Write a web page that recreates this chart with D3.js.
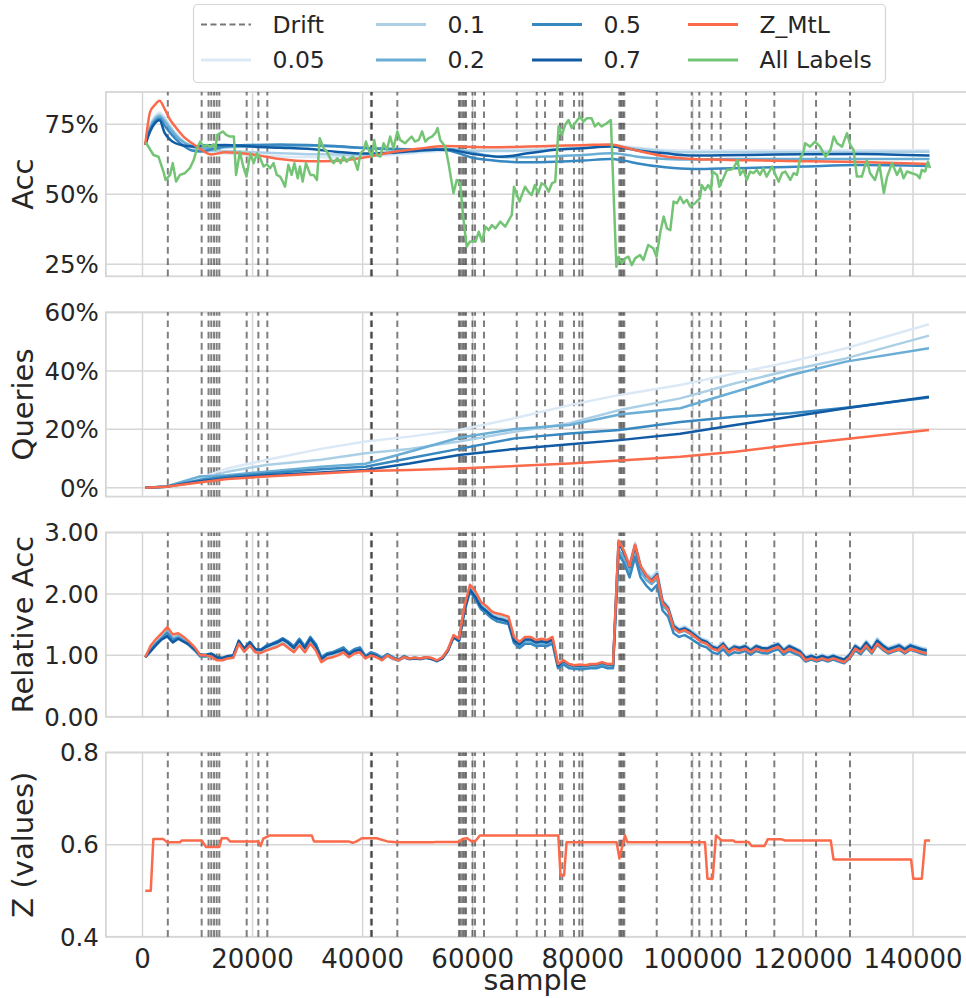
<!DOCTYPE html>
<html>
<head>
<meta charset="utf-8">
<script src="https://cdn.jsdelivr.net/npm/d3@7"></script>
<style>
  body { margin: 0; background: #fff; }
  svg { display: block; font-family: "DejaVu Sans", sans-serif; }
</style>
</head>
<body>
<div id="chart"></div>
<script>
"use strict";

// samples where a drift was detected
var drifts = [4600, 10750, 12000, 12500, 13000, 13480, 13960, 18930, 21050, 22680,
  41500, 41700, 46300, 57500, 57800, 58170, 58480, 58780, 59950, 60420, 62050,
  68000, 71630, 73140, 75860, 76280, 78400, 79370, 79920, 86640, 86940, 87250,
  87540, 93430, 99790, 101170, 103420, 105050, 109660, 114800, 122380, 128550];

var budgets = ["0.05", "0.1", "0.2", "0.5", "0.7"];
var blues = ["#dbe9f6", "#abd0e6", "#6aaed6", "#3787c0", "#105ba4"];
var zColor = "#fb6a4a";
var allColor = "#74c476";

// accuracy (%) of the budgeted learners and Z_MtL
var accSamples = [500, 1400, 2300, 3100, 4000, 5000, 6000, 7500, 9000, 10500, 12500, 15000,
  20000, 25000, 30000, 35000, 40000, 45000, 50000, 55000, 60000, 65000, 70000, 75000,
  80000, 85000, 87500, 90000, 95000, 100000, 105000, 110000, 120000, 130000, 143000];
var acc005 = [67.6, 74.8, 78.0, 79.2, 77.5, 74.6, 72.0, 68.9, 66.6, 65.3, 64.8, 64.5,
  64.0, 63.5, 63.3, 63.2, 63.4, 64.0, 64.8, 65.5, 65.8, 66.0, 66.2, 66.5,
  67.0, 67.8, 67.2, 66.6, 65.8, 65.6, 65.6, 65.6, 65.6, 65.7, 65.7];
var acc01 = [67.6, 74.3, 77.4, 78.5, 76.8, 74.0, 71.5, 68.6, 66.8, 65.9, 65.5, 65.4,
  65.0, 64.6, 64.3, 64.2, 64.0, 64.5, 65.3, 66.0, 65.5, 65.4, 65.6, 66.0,
  66.5, 67.2, 66.8, 66.2, 65.3, 65.0, 65.0, 65.0, 65.0, 65.1, 65.2];
var acc02 = [67.6, 73.8, 76.8, 77.8, 76.0, 73.5, 71.0, 68.5, 67.2, 66.5, 66.4, 66.8,
  67.0, 67.3, 67.4, 67.0, 66.5, 66.0, 65.8, 66.2, 64.8, 63.3, 63.2, 63.6,
  64.0, 64.6, 64.2, 63.4, 62.6, 62.4, 62.5, 62.6, 62.6, 62.6, 62.6];
var acc05 = [67.6, 73.0, 76.0, 77.0, 74.5, 72.0, 69.8, 67.2, 65.6, 65.3, 66.0, 67.0,
  67.6, 67.8, 67.6, 67.2, 66.6, 66.2, 66.0, 65.8, 63.0, 61.8, 61.4, 61.6,
  62.0, 62.6, 62.0, 61.0, 59.6, 59.0, 59.2, 59.4, 59.9, 60.4, 60.1];
var acc07 = [67.6, 72.5, 75.5, 76.4, 72.0, 69.5, 68.2, 67.4, 67.0, 67.3, 67.5, 67.6,
  67.0, 66.6, 66.2, 65.2, 64.5, 64.8, 65.5, 66.0, 64.4, 63.4, 64.6, 65.9,
  66.4, 67.0, 66.5, 65.6, 64.6, 63.8, 63.9, 64.0, 64.3, 64.4, 63.8];
var accZ = [67.6, 79.5, 82.0, 83.4, 80.6, 76.6, 74.0, 70.5, 68.2, 66.2, 64.2, 65.0,
  64.2, 62.6, 61.8, 61.9, 63.0, 64.9, 66.2, 67.2, 66.9, 66.8, 67.0, 67.3,
  67.5, 67.8, 66.8, 65.5, 63.5, 62.6, 62.3, 62.1, 61.8, 61.5, 60.8];

// accuracy (%) with all labels
var allSamples = [600, 2000, 2900, 3800, 4200, 5000, 5500, 6100, 6800, 7700, 8600, 9300,
  9900, 10500, 11100, 11700, 12300, 12900, 13200, 13600, 14600, 15200, 15900, 16600,
  17000, 17700, 18300, 18900, 19600, 20200, 20800, 21400, 22000, 22600, 23200, 23800,
  24400, 25000, 25500, 25900, 26500, 27100, 27600, 28200, 28600, 29100, 29700, 30500,
  31100, 31700, 32200, 32900, 33500, 34100, 34700, 35400, 36000, 36500, 37100, 37700,
  38300, 39100, 39600, 40200, 40600, 41100, 41700, 42100, 42600, 43200, 43800, 44400,
  45000, 45600, 46300, 46800, 47700, 48300, 48900, 49500, 50200, 50800, 51400, 52000,
  52600, 53200, 53600, 54100, 55000, 55600, 56500, 57100, 57700, 58300, 58900, 59500,
  60500, 61100, 61700, 62300, 62900, 63500, 64100, 65000, 65900, 67100, 67500, 68500,
  69500, 70100, 70700, 71300, 71900, 72500, 73100, 73800, 74400, 75000, 75600, 76200,
  76800, 77400, 78000, 78600, 79500, 80100, 80700, 81600, 82200, 82800, 83400, 84400,
  85100, 86100, 86500, 87100, 87700, 88300, 88900, 89500, 90400, 91000, 91900, 92800,
  93400, 94100, 94700, 95300, 95900, 96500, 97100, 97700, 98300, 98900, 99500, 100400,
  101300, 101600, 102200, 102800, 103300, 103600, 104400, 104800, 105400, 106200, 106800, 107400,
  108100, 108600, 109200, 109800, 110400, 111000, 111600, 112200, 112800, 113400, 114400, 115000,
  115600, 116200, 116800, 117700, 118300, 118900, 119500, 120100, 120400, 121300, 122200, 123100,
  124100, 125000, 125600, 126200, 127100, 128000, 128600, 129200, 129800, 130700, 131600, 132200,
  133100, 133900, 134700, 135300, 136200, 137100, 137700, 138300, 138900, 139800, 140700, 141200,
  141600, 142200, 142700, 143100];
var accAll = [68.5, 64.0, 63.4, 58.1, 55.1, 56.9, 61.1, 54.5, 56.9, 57.5, 59.3, 62.2,
  66.4, 68.8, 67.0, 67.6, 67.0, 67.8, 65.8, 71.2, 72.4, 71.2, 70.6, 70.6,
  56.9, 65.2, 59.9, 56.3, 64.6, 61.1, 64.6, 62.8, 59.9, 60.7, 59.3, 61.1,
  56.9, 56.3, 54.5, 52.7, 60.5, 56.9, 61.1, 55.7, 59.9, 54.5, 61.1, 56.9,
  56.9, 55.1, 70.0, 66.4, 65.2, 62.8, 61.1, 62.8, 61.1, 63.4, 61.6, 62.8,
  63.4, 58.7, 64.6, 65.8, 68.8, 65.8, 63.4, 69.4, 64.0, 63.4, 68.2, 65.8,
  70.6, 66.4, 72.4, 69.4, 68.2, 69.4, 70.6, 68.8, 69.4, 72.4, 68.8, 70.0,
  70.6, 71.8, 73.6, 69.4, 67.0, 61.1, 50.4, 55.1, 53.9, 41.4, 31.3, 33.1,
  33.1, 36.6, 33.1, 38.4, 37.2, 39.0, 37.8, 40.2, 38.4, 42.6, 52.7, 47.4,
  52.7, 50.9, 49.7, 53.3, 50.3, 53.9, 53.3, 50.9, 53.9, 54.5, 74.2, 71.2,
  74.8, 76.5, 73.6, 75.4, 77.7, 75.9, 77.1, 77.1, 74.2, 75.4, 74.2, 75.4,
  76.5, 24.1, 27.7, 25.3, 27.1, 27.7, 24.7, 27.1, 28.3, 26.5, 31.9, 30.7,
  27.7, 36.6, 42.0, 37.8, 37.2, 47.4, 46.8, 49.1, 46.8, 48.0, 45.6, 46.8,
  48.6, 53.3, 51.5, 53.3, 51.5, 58.1, 56.9, 52.7, 55.1, 58.7, 58.7, 59.3,
  62.2, 56.9, 58.7, 55.1, 58.1, 57.5, 58.7, 56.9, 59.3, 56.3, 59.9, 56.9,
  54.5, 57.5, 58.1, 55.1, 57.5, 56.9, 62.8, 65.2, 68.2, 67.0, 68.8, 67.0,
  63.4, 65.8, 70.6, 68.2, 67.0, 71.8, 67.6, 65.8, 56.3, 56.3, 62.2, 57.5,
  55.1, 60.5, 50.4, 56.3, 61.1, 56.9, 59.3, 55.7, 58.1, 57.5, 56.9, 55.7,
  58.7, 58.1, 61.6, 59.3];

// share of labels queried (%)
var querySamples = [500, 4300, 10300, 15400, 22400, 32400, 40500, 48500, 57500, 67600,
  77600, 86700, 97700, 107700, 117800, 127800, 142900];
var query005 = [0, 0.4, 3.2, 6.6, 9.5, 13.3, 15.8, 17.5, 19.8, 23.8, 28.3, 31.8, 35.2, 39.2, 43.2, 47.8, 56.0];
var query01 = [0, 0.4, 2.6, 5.5, 7.8, 9.6, 11.8, 13.3, 15.8, 19.2, 22.1, 26.6, 30.6, 35.8, 40.3, 44.3, 52.1];
var query02 = [0, 0.4, 3.8, 4.3, 5.5, 7.2, 8.2, 12.3, 17.1, 20.1, 21.5, 25.1, 27.2, 32.9, 38.6, 43.2, 47.8];
var query05 = [0, 0.3, 2.6, 3.8, 4.9, 6.3, 7.2, 10.1, 13.3, 16.9, 18.6, 19.8, 22.5, 24.3, 25.5, 27.4, 30.9];
var query07 = [0, 0.3, 2.1, 3.2, 4.3, 5.2, 6.1, 8.3, 11.2, 13.3, 14.9, 16.3, 18.5, 21.5, 24.3, 27.2, 31.2];
var queryZ = [0, 0.3, 1.8, 3.0, 3.8, 4.9, 5.7, 6.1, 6.6, 7.4, 8.3, 9.3, 10.6, 12.3, 14.6, 16.7, 19.8];

// accuracy relative to the all-labels learner, one value every 1000 samples
var relSamples = d3.range(500, 143000, 1000);
var rel005 = [0.97, 1.11, 1.22, 1.31, 1.41, 1.29, 1.33, 1.27, 1.18, 1.10,
  0.99, 0.99, 0.99, 0.93, 0.92, 0.95, 0.96, 1.19, 1.06, 1.16,
  1.05, 1.04, 1.09, 1.12, 1.15, 1.20, 1.15, 1.08, 1.19, 1.08,
  1.22, 1.11, 0.91, 0.97, 0.99, 1.02, 1.06, 0.98, 1.04, 1.06,
  0.95, 1.00, 0.97, 0.92, 0.99, 0.94, 0.91, 0.96, 0.93, 0.94,
  0.93, 0.95, 0.94, 0.90, 0.95, 1.07, 1.30, 1.24, 1.77, 2.11,
  2.01, 1.84, 1.77, 1.68, 1.66, 1.64, 1.61, 1.28, 1.21, 1.29,
  1.29, 1.24, 1.26, 1.24, 1.29, 0.85, 0.91, 0.85, 0.83, 0.84,
  0.83, 0.85, 0.85, 0.88, 0.85, 0.85, 2.86, 2.69, 2.49, 2.84,
  2.49, 2.35, 2.28, 2.38, 1.91, 1.81, 1.52, 1.44, 1.48, 1.42,
  1.36, 1.28, 1.25, 1.17, 1.14, 1.22, 1.10, 1.17, 1.14, 1.17,
  1.11, 1.17, 1.14, 1.13, 1.17, 1.20, 1.11, 1.17, 1.13, 1.09,
  0.98, 1.01, 0.98, 1.01, 0.98, 1.01, 0.98, 0.95, 1.03, 1.18,
  1.12, 1.24, 1.13, 1.28, 1.19, 1.13, 1.16, 1.19, 1.13, 1.19,
  1.16, 1.13, 1.11];
var rel01 = [0.97, 1.11, 1.21, 1.30, 1.40, 1.29, 1.32, 1.26, 1.19, 1.10,
  0.99, 0.99, 1.00, 0.94, 0.93, 0.96, 0.97, 1.20, 1.07, 1.17,
  1.06, 1.05, 1.11, 1.14, 1.17, 1.22, 1.16, 1.09, 1.21, 1.09,
  1.24, 1.12, 0.92, 0.99, 1.01, 1.04, 1.08, 1.00, 1.06, 1.08,
  0.96, 1.01, 0.98, 0.93, 0.99, 0.94, 0.91, 0.96, 0.94, 0.95,
  0.94, 0.96, 0.94, 0.90, 0.95, 1.08, 1.30, 1.24, 1.76, 2.10,
  2.00, 1.83, 1.76, 1.67, 1.64, 1.62, 1.59, 1.27, 1.19, 1.27,
  1.27, 1.22, 1.24, 1.22, 1.27, 0.84, 0.91, 0.85, 0.83, 0.84,
  0.83, 0.85, 0.85, 0.88, 0.85, 0.85, 2.83, 2.66, 2.46, 2.81,
  2.46, 2.32, 2.26, 2.36, 1.90, 1.79, 1.50, 1.43, 1.46, 1.41,
  1.35, 1.27, 1.24, 1.16, 1.13, 1.21, 1.10, 1.16, 1.13, 1.17,
  1.10, 1.17, 1.13, 1.12, 1.17, 1.20, 1.10, 1.17, 1.12, 1.08,
  0.97, 1.01, 0.97, 1.01, 0.97, 1.01, 0.97, 0.94, 1.03, 1.17,
  1.11, 1.23, 1.12, 1.27, 1.18, 1.12, 1.15, 1.18, 1.12, 1.18,
  1.15, 1.12, 1.10];
var rel02 = [0.97, 1.10, 1.20, 1.29, 1.39, 1.27, 1.31, 1.25, 1.19, 1.11,
  1.00, 1.00, 1.01, 0.95, 0.95, 0.98, 0.99, 1.23, 1.10, 1.21,
  1.09, 1.08, 1.15, 1.18, 1.22, 1.27, 1.22, 1.14, 1.26, 1.14,
  1.29, 1.18, 0.96, 1.03, 1.05, 1.08, 1.12, 1.03, 1.10, 1.12,
  0.99, 1.05, 1.01, 0.96, 1.02, 0.96, 0.93, 0.98, 0.95, 0.96,
  0.95, 0.97, 0.95, 0.91, 0.96, 1.09, 1.30, 1.24, 1.75, 2.09,
  1.96, 1.80, 1.73, 1.64, 1.59, 1.57, 1.54, 1.23, 1.15, 1.23,
  1.23, 1.18, 1.20, 1.18, 1.23, 0.81, 0.87, 0.82, 0.80, 0.81,
  0.80, 0.82, 0.82, 0.84, 0.82, 0.82, 2.72, 2.56, 2.36, 2.70,
  2.36, 2.23, 2.16, 2.25, 1.81, 1.72, 1.44, 1.37, 1.40, 1.35,
  1.29, 1.22, 1.19, 1.11, 1.08, 1.16, 1.05, 1.11, 1.09, 1.12,
  1.06, 1.12, 1.09, 1.08, 1.12, 1.15, 1.06, 1.12, 1.08, 1.04,
  0.94, 0.97, 0.94, 0.97, 0.94, 0.97, 0.94, 0.91, 0.99, 1.13,
  1.07, 1.18, 1.08, 1.22, 1.14, 1.08, 1.11, 1.14, 1.08, 1.14,
  1.11, 1.08, 1.05];
var rel05 = [0.97, 1.08, 1.19, 1.27, 1.36, 1.25, 1.28, 1.23, 1.16, 1.08,
  0.98, 0.98, 1.01, 0.95, 0.95, 0.98, 0.99, 1.23, 1.11, 1.22,
  1.10, 1.09, 1.16, 1.19, 1.23, 1.28, 1.22, 1.15, 1.27, 1.15,
  1.30, 1.18, 0.97, 1.03, 1.05, 1.09, 1.13, 1.04, 1.10, 1.13,
  0.99, 1.05, 1.02, 0.96, 1.02, 0.97, 0.93, 0.99, 0.95, 0.96,
  0.95, 0.97, 0.95, 0.91, 0.96, 1.08, 1.29, 1.23, 1.71, 2.04,
  1.91, 1.75, 1.68, 1.60, 1.55, 1.53, 1.51, 1.20, 1.12, 1.19,
  1.19, 1.15, 1.16, 1.15, 1.19, 0.79, 0.85, 0.79, 0.78, 0.78,
  0.78, 0.79, 0.79, 0.82, 0.79, 0.79, 2.65, 2.50, 2.27, 2.60,
  2.27, 2.14, 2.05, 2.15, 1.73, 1.63, 1.36, 1.30, 1.33, 1.28,
  1.22, 1.16, 1.13, 1.05, 1.02, 1.10, 1.00, 1.05, 1.04, 1.07,
  1.01, 1.07, 1.04, 1.03, 1.07, 1.10, 1.01, 1.07, 1.03, 0.99,
  0.90, 0.93, 0.90, 0.93, 0.90, 0.93, 0.90, 0.87, 0.95, 1.08,
  1.02, 1.13, 1.03, 1.17, 1.09, 1.03, 1.06, 1.09, 1.03, 1.09,
  1.06, 1.03, 1.01];
var rel07 = [0.97, 1.07, 1.17, 1.26, 1.31, 1.21, 1.27, 1.22, 1.18, 1.10,
  1.01, 1.01, 1.03, 0.97, 0.96, 0.99, 1.00, 1.24, 1.11, 1.21,
  1.10, 1.09, 1.14, 1.18, 1.21, 1.26, 1.20, 1.12, 1.24, 1.12,
  1.27, 1.15, 0.94, 1.01, 1.03, 1.06, 1.09, 1.01, 1.07, 1.09,
  0.97, 1.02, 0.99, 0.93, 1.00, 0.95, 0.92, 0.97, 0.94, 0.95,
  0.94, 0.96, 0.94, 0.91, 0.95, 1.08, 1.30, 1.24, 1.74, 2.07,
  1.95, 1.79, 1.72, 1.64, 1.60, 1.58, 1.55, 1.24, 1.18, 1.26,
  1.26, 1.21, 1.23, 1.21, 1.26, 0.83, 0.91, 0.85, 0.83, 0.84,
  0.83, 0.85, 0.85, 0.88, 0.85, 0.85, 2.84, 2.67, 2.44, 2.79,
  2.44, 2.30, 2.22, 2.32, 1.87, 1.77, 1.48, 1.41, 1.44, 1.39,
  1.32, 1.25, 1.22, 1.14, 1.11, 1.19, 1.08, 1.14, 1.12, 1.15,
  1.08, 1.15, 1.12, 1.11, 1.15, 1.18, 1.08, 1.15, 1.11, 1.06,
  0.96, 0.99, 0.96, 0.99, 0.96, 0.99, 0.96, 0.93, 1.01, 1.15,
  1.09, 1.21, 1.10, 1.24, 1.16, 1.10, 1.13, 1.16, 1.10, 1.16,
  1.13, 1.10, 1.08];
var relZ = [0.97, 1.16, 1.27, 1.36, 1.46, 1.34, 1.36, 1.30, 1.22, 1.13,
  1.00, 1.00, 0.98, 0.92, 0.92, 0.95, 0.96, 1.19, 1.06, 1.16,
  1.05, 1.04, 1.08, 1.11, 1.14, 1.19, 1.12, 1.05, 1.16, 1.05,
  1.19, 1.08, 0.89, 0.95, 0.97, 1.00, 1.05, 0.97, 1.03, 1.05,
  0.95, 1.00, 0.97, 0.92, 1.00, 0.95, 0.92, 0.97, 0.95, 0.96,
  0.95, 0.97, 0.96, 0.92, 0.97, 1.10, 1.33, 1.27, 1.80, 2.15,
  2.04, 1.87, 1.80, 1.71, 1.68, 1.66, 1.63, 1.30, 1.22, 1.30,
  1.30, 1.25, 1.27, 1.25, 1.30, 0.86, 0.92, 0.86, 0.84, 0.85,
  0.84, 0.86, 0.86, 0.89, 0.86, 0.86, 2.87, 2.70, 2.45, 2.80,
  2.45, 2.31, 2.20, 2.30, 1.85, 1.75, 1.45, 1.38, 1.41, 1.36,
  1.29, 1.22, 1.19, 1.11, 1.08, 1.16, 1.05, 1.11, 1.08, 1.11,
  1.05, 1.11, 1.08, 1.07, 1.11, 1.14, 1.05, 1.11, 1.07, 1.03,
  0.92, 0.95, 0.92, 0.95, 0.92, 0.95, 0.92, 0.89, 0.97, 1.11,
  1.05, 1.16, 1.05, 1.19, 1.11, 1.05, 1.08, 1.11, 1.05, 1.11,
  1.08, 1.05, 1.03];

// Z value chosen by Z_MtL
var zSamples = [500, 1500, 1970, 3800, 4500, 6800, 7100, 10750, 11550, 13950, 14400, 15400,
  15900, 21050, 21450, 21950, 23150, 30750, 31150, 37400, 38200, 38900, 39850, 42550,
  44500, 46200, 52850, 53450, 57400, 58300, 59000, 59800, 60500, 61300, 75550, 75950,
  76600, 77050, 86150, 86650, 87650, 88100, 102200, 102650, 103600, 104200, 105250, 107350,
  107650, 110100, 110700, 113000, 113600, 116150, 116750, 125050, 125550, 139650, 140050, 141600,
  142200, 143100];
var zValues = [0.5, 0.5, 0.612, 0.612, 0.605, 0.605, 0.609, 0.609, 0.595, 0.595, 0.614, 0.614,
  0.607, 0.607, 0.597, 0.613, 0.62, 0.62, 0.607, 0.607, 0.604, 0.607, 0.614, 0.614,
  0.607, 0.605, 0.605, 0.606, 0.606, 0.613, 0.614, 0.607, 0.608, 0.62, 0.62, 0.533,
  0.533, 0.605, 0.605, 0.57, 0.62, 0.605, 0.605, 0.526, 0.526, 0.62, 0.609, 0.609,
  0.606, 0.606, 0.597, 0.597, 0.6115, 0.6115, 0.609, 0.609, 0.568, 0.568, 0.526, 0.526,
  0.609, 0.609];

var xTicks = [0, 20000, 40000, 60000, 80000, 100000, 120000, 140000];

var width = 966,
  height = 998,
  left = 105.9,
  right = 968.6,
  panelHeight = 184.3,
  textColor = "#262626",
  gridColor = "#d6d6d6";

var svg = d3
  .select("#chart")
  .append("svg")
  .attr("width", width)
  .attr("height", height);

var x = d3.scaleLinear().domain([-6650, 150100]).range([left, right]);

function pairs(xs, ys) {
  return xs.map(function(s, i) {
    return [s, ys[i]];
  });
}

function drawPanel(index, top, yDomain, yTicks, yFormat, label) {
  var y = d3.scaleLinear().domain(yDomain).range([top + panelHeight, top]);
  var g = svg.append("g");

  g.append("clipPath")
    .attr("id", "clip" + index)
    .append("rect")
    .attr("x", left)
    .attr("y", top)
    .attr("width", right - left)
    .attr("height", panelHeight);

  // grid
  g.selectAll(".xgrid")
    .data(xTicks)
    .enter()
    .append("line")
    .attr("x1", function(d) { return x(d); })
    .attr("x2", function(d) { return x(d); })
    .attr("y1", top)
    .attr("y2", top + panelHeight)
    .attr("stroke", gridColor)
    .attr("stroke-width", 1.5);
  g.selectAll(".ygrid")
    .data(yTicks)
    .enter()
    .append("line")
    .attr("x1", left)
    .attr("x2", right)
    .attr("y1", function(d) { return y(d); })
    .attr("y2", function(d) { return y(d); })
    .attr("stroke", gridColor)
    .attr("stroke-width", 1.5);
  g.append("rect")
    .attr("x", left)
    .attr("y", top)
    .attr("width", right - left)
    .attr("height", panelHeight)
    .attr("fill", "none")
    .attr("stroke", gridColor)
    .attr("stroke-width", 1.8);

  // drift markers
  g.selectAll(".drift")
    .data(drifts)
    .enter()
    .append("line")
    .attr("x1", function(d) { return x(d); })
    .attr("x2", function(d) { return x(d); })
    .attr("y1", top + panelHeight)
    .attr("y2", top)
    .attr("stroke", "#000")
    .attr("stroke-opacity", 0.5)
    .attr("stroke-width", 2)
    .attr("stroke-dasharray", "6.7,4.6");

  g.selectAll(".ytick")
    .data(yTicks)
    .enter()
    .append("text")
    .attr("x", left - 7)
    .attr("y", function(d) { return y(d); })
    .attr("dy", "0.36em")
    .attr("text-anchor", "end")
    .attr("font-size", "24.5px")
    .attr("fill", textColor)
    .text(yFormat);

  g.append("text")
    .attr("transform", "translate(23," + (top + panelHeight / 2) + ") rotate(-90)")
    .attr("dy", "0.36em")
    .attr("text-anchor", "middle")
    .attr("font-size", "29px")
    .attr("fill", textColor)
    .text(label);

  var lines = g.append("g").attr("clip-path", "url(#clip" + index + ")");
  return { y: y, lines: lines };
}

function addLine(panel, data, color, curve) {
  var line = d3
    .line()
    .curve(curve || d3.curveLinear)
    .x(function(d) { return x(d[0]); })
    .y(function(d) { return panel.y(d[1]); });
  panel.lines
    .append("path")
    .datum(data)
    .attr("d", line)
    .attr("fill", "none")
    .attr("stroke", color)
    .attr("stroke-width", 2.5)
    .attr("stroke-linejoin", "round");
}

var pct = function(d) { return d + "%"; };

// Acc
var accPanel = drawPanel(0, 92, [20.7, 86.5], [25, 50, 75], pct, "Acc");
[acc005, acc01, acc02, acc05, acc07].forEach(function(vals, i) {
  addLine(accPanel, pairs(accSamples, vals), blues[i], d3.curveMonotoneX);
});
addLine(accPanel, pairs(accSamples, accZ), zColor, d3.curveMonotoneX);
addLine(accPanel, pairs(allSamples, accAll), allColor);

// Queries
var queryPanel = drawPanel(1, 312.3, [-3.05, 60.1], [0, 20, 40, 60], pct, "Queries");
[query005, query01, query02, query05, query07].forEach(function(vals, i) {
  addLine(queryPanel, pairs(querySamples, vals), blues[i]);
});
addLine(queryPanel, pairs(querySamples, queryZ), zColor);

// Relative Acc
var relPanel = drawPanel(2, 532.5, [0, 3], [0, 1, 2, 3], d3.format(".2f"), "Relative Acc");
[rel005, rel01, rel02, rel05, rel07].forEach(function(vals, i) {
  addLine(relPanel, pairs(relSamples, vals), blues[i]);
});
addLine(relPanel, pairs(relSamples, relZ), zColor);

// Z values
var zPanel = drawPanel(3, 752.5, [0.4, 0.8], [0.4, 0.6, 0.8], d3.format(".1f"), "Z (values)");
addLine(zPanel, pairs(zSamples, zValues), zColor);

// x axis labels under the last panel
svg.selectAll(".xtick")
  .data(xTicks)
  .enter()
  .append("text")
  .attr("x", function(d) { return x(d); })
  .attr("y", 958.5)
  .attr("dy", "0.36em")
  .attr("text-anchor", "middle")
  .attr("font-size", "26px")
  .attr("fill", textColor)
  .text(function(d) { return d; });

svg.append("text")
  .attr("x", (left + right) / 2 - 2)
  .attr("y", 989.5)
  .attr("text-anchor", "middle")
  .attr("font-size", "28.5px")
  .attr("fill", textColor)
  .text("sample");

// legend, filled column by column
var legendItems = [
  { name: "Drift", color: "#555", dash: true },
  { name: budgets[0], color: blues[0] },
  { name: budgets[1], color: blues[1] },
  { name: budgets[2], color: blues[2] },
  { name: budgets[3], color: blues[3] },
  { name: budgets[4], color: blues[4] },
  { name: "Z_MtL", color: zColor },
  { name: "All Labels", color: allColor }
];
var legendCols = [201, 376, 532, 688];
var legendRows = [24.5, 60];

var legend = svg.append("g");
legend.append("rect")
  .attr("x", 193.5)
  .attr("y", 4.5)
  .attr("width", 692)
  .attr("height", 78)
  .attr("rx", 4)
  .attr("fill", "#fff")
  .attr("stroke", "#d6d6d6")
  .attr("stroke-width", 1.2);

var entry = legend.selectAll(".entry")
  .data(legendItems)
  .enter()
  .append("g")
  .attr("transform", function(d, i) {
    return "translate(" + legendCols[Math.floor(i / 2)] + "," + legendRows[i % 2] + ")";
  });
entry.append("line")
  .attr("x1", 0)
  .attr("x2", 50)
  .attr("stroke", function(d) { return d.color; })
  .attr("stroke-opacity", function(d) { return d.dash ? 0.8 : 1; })
  .attr("stroke-width", function(d) { return d.dash ? 2 : 3; })
  .attr("stroke-dasharray", function(d) { return d.dash ? "6,3.5" : null; });
entry.append("text")
  .attr("x", 71.5)
  .attr("dy", "0.36em")
  .attr("font-size", "23.5px")
  .attr("fill", textColor)
  .text(function(d) { return d.name; });
</script>
</body>
</html>
